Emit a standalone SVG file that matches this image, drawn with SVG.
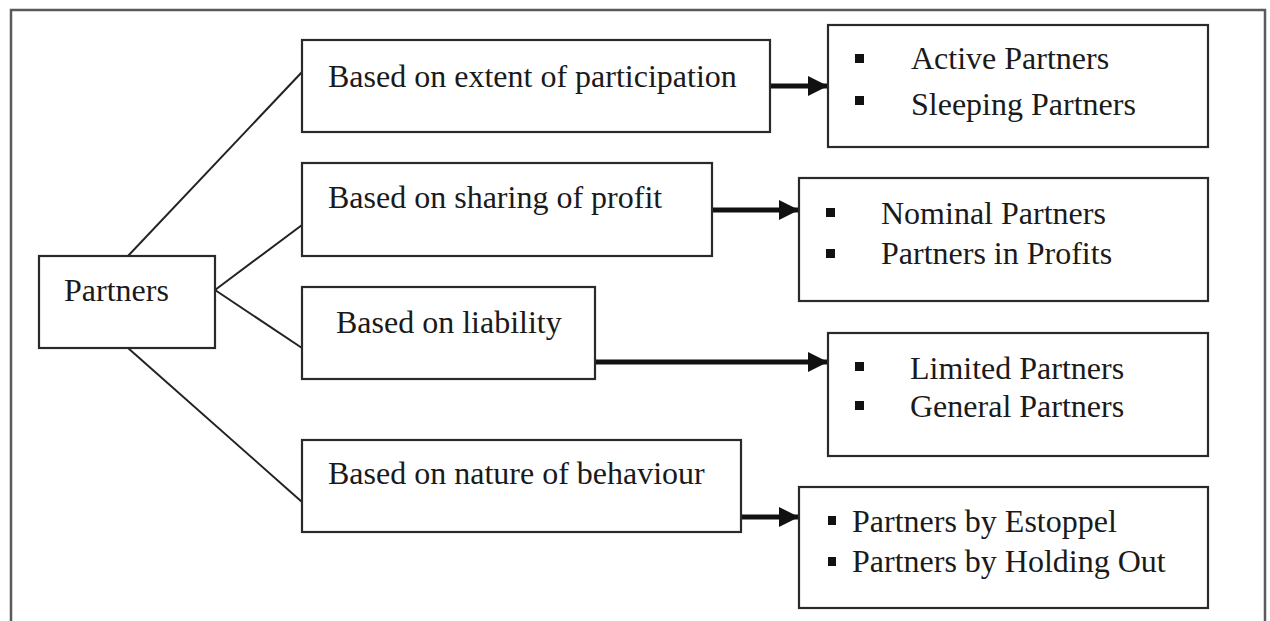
<svg xmlns="http://www.w3.org/2000/svg" width="1270" height="621" viewBox="0 0 1270 621">
  <style>
    .box { fill: #ffffff; stroke: #2a2a2a; stroke-width: 2.2; }
    .frame { fill: none; stroke: #5a5a5a; stroke-width: 2.5; }
    .link { stroke: #222222; stroke-width: 2; fill: none; }
    .arrow { stroke: #111111; stroke-width: 5; fill: none; }
    .label { font-family: "Liberation Serif", "Times New Roman", serif; font-size: 32px; fill: #1a1a1a; }
    .bullet { fill: #111111; }
  </style>
  <defs>
    <marker id="head" markerWidth="4" markerHeight="4" refX="3.8" refY="2" orient="auto" markerUnits="strokeWidth">
      <path d="M0,0 L4,2 L0,4 Z" fill="#111111"/>
    </marker>
  </defs>
  <rect width="1270" height="621" fill="#ffffff"/>
  <path class="frame" d="M11,630 L11,10 L1265,10 L1265,630"/>

  <g id="connectors">
    <line class="link" x1="128" y1="256" x2="302" y2="72"/>
    <line class="link" x1="215" y1="290" x2="302" y2="225"/>
    <line class="link" x1="215" y1="290" x2="302" y2="348"/>
    <line class="link" x1="128" y1="348" x2="302" y2="502"/>
    <line class="arrow" x1="770" y1="86" x2="827" y2="86" marker-end="url(#head)"/>
    <line class="arrow" x1="712" y1="210" x2="798" y2="210" marker-end="url(#head)"/>
    <line class="arrow" x1="595" y1="362" x2="827" y2="362" marker-end="url(#head)"/>
    <line class="arrow" x1="741" y1="517" x2="798" y2="517" marker-end="url(#head)"/>
  </g>

  <g id="partners">
    <rect class="box" x="39" y="256" width="176" height="92"/>
    <text class="label" x="64" y="301">Partners</text>
  </g>

  <g id="participation">
    <rect class="box" x="302" y="40" width="468" height="92"/>
    <text class="label" x="328" y="87">Based on extent of participation</text>
  </g>
  <g id="profit">
    <rect class="box" x="302" y="163" width="410" height="93"/>
    <text class="label" x="328" y="208">Based on sharing of profit</text>
  </g>
  <g id="liability">
    <rect class="box" x="302" y="287" width="293" height="92"/>
    <text class="label" x="336" y="333">Based on liability</text>
  </g>
  <g id="behaviour">
    <rect class="box" x="302" y="440" width="439" height="92"/>
    <text class="label" x="328" y="484">Based on nature of behaviour</text>
  </g>

  <g id="types-participation">
    <rect class="box" x="828" y="25" width="380" height="122"/>
    <rect class="bullet" x="855" y="54" width="9" height="9"/>
    <rect class="bullet" x="855" y="96" width="9" height="9"/>
    <text class="label" x="911" y="69">Active Partners</text>
    <text class="label" x="911" y="115">Sleeping Partners</text>
  </g>
  <g id="types-profit">
    <rect class="box" x="799" y="178" width="409" height="123"/>
    <rect class="bullet" x="826" y="208" width="9" height="9"/>
    <rect class="bullet" x="826" y="249" width="9" height="9"/>
    <text class="label" x="881" y="224">Nominal Partners</text>
    <text class="label" x="881" y="264">Partners in Profits</text>
  </g>
  <g id="types-liability">
    <rect class="box" x="828" y="333" width="380" height="123"/>
    <rect class="bullet" x="855" y="362" width="9" height="9"/>
    <rect class="bullet" x="855" y="401" width="9" height="9"/>
    <text class="label" x="910" y="379">Limited Partners</text>
    <text class="label" x="910" y="417">General Partners</text>
  </g>
  <g id="types-behaviour">
    <rect class="box" x="799" y="487" width="409" height="121"/>
    <rect class="bullet" x="828" y="516" width="8" height="9"/>
    <rect class="bullet" x="828" y="557" width="8" height="9"/>
    <text class="label" x="852" y="532">Partners by Estoppel</text>
    <text class="label" x="852" y="572">Partners by Holding Out</text>
  </g>
</svg>
